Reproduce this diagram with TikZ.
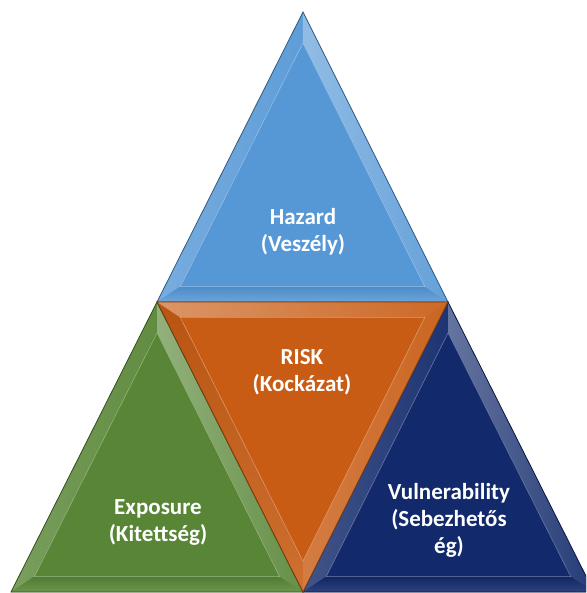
\documentclass[tikz,border=0pt]{standalone}
\usepackage{fontspec}
\setmainfont{Carlito}
\usetikzlibrary{calc}

\definecolor{hazardblue}{RGB}{86,152,214}
\definecolor{riskorange}{RGB}{200,92,20}
\definecolor{exposgreen}{RGB}{88,134,54}
\definecolor{vulnblue}{RGB}{18,42,108}

% bevelled triangle: three corners, then the colour
% first side lit, second side in soft shadow, third side half lit
\newcommand{\facettri}[4]{%
\coordinate (m) at (barycentric cs:#1=1,#2=1,#3=1);
\coordinate (#1i) at ($(#1)!.16!(m)$);
\coordinate (#2i) at ($(#2)!.16!(m)$);
\coordinate (#3i) at ($(#3)!.16!(m)$);
\fill[#4] (#1) -- (#2) -- (#3) -- cycle;
\shade[left color=#4!80!white, right color=#4!95!white] (#1) -- (#2) -- (#2i) -- (#1i) -- cycle;
\shade[top color=#4!92!black, bottom color=#4!88!white] (#2) -- (#3) -- (#3i) -- (#2i) -- cycle;
\shade[left color=#4!65!white, right color=#4!92!white] (#3) -- (#1) -- (#1i) -- (#3i) -- cycle;
\fill[#4] (#1i) -- (#2i) -- (#3i) -- cycle;
\draw[#4!60!white, line width=.5pt] (#1i) -- (#2i) -- (#3i) -- cycle;
\draw[#4!60!black, line width=.8pt] (#1) -- (#2) -- (#3) -- cycle;
}

\tikzset{
  label/.style={text=white, font=\fontsize{23}{27}\selectfont\bfseries, align=center}
}

\begin{document}
\begin{tikzpicture}[x=1pt, y=-1pt]
\useasboundingbox (0,0) rectangle (586,593);
\clip (0,0) rectangle (586,593);

\coordinate (top) at (303,12);
\coordinate (left) at (157,302);
\coordinate (right) at (448,302);
\coordinate (bot) at (303,592);
\coordinate (farleft) at (11,592);
\coordinate (farright) at (594,592);

\facettri{top}{left}{right}{hazardblue}
\facettri{left}{farleft}{bot}{exposgreen}
\facettri{right}{bot}{farright}{vulnblue}
\facettri{right}{bot}{left}{riskorange}

\node[label] (hazard) at (303,232) {Hazard\\(Veszély)};
\node[label] (risk) at (302,372) {RISK\\(Kockázat)};
\node[label] (expo) at (158,522) {Exposure\\(Kitettség)};
\node[label] (vuln) at (449,520) {Vulnerability\\(Sebezhetős\\ég)};
\end{tikzpicture}
\end{document}
